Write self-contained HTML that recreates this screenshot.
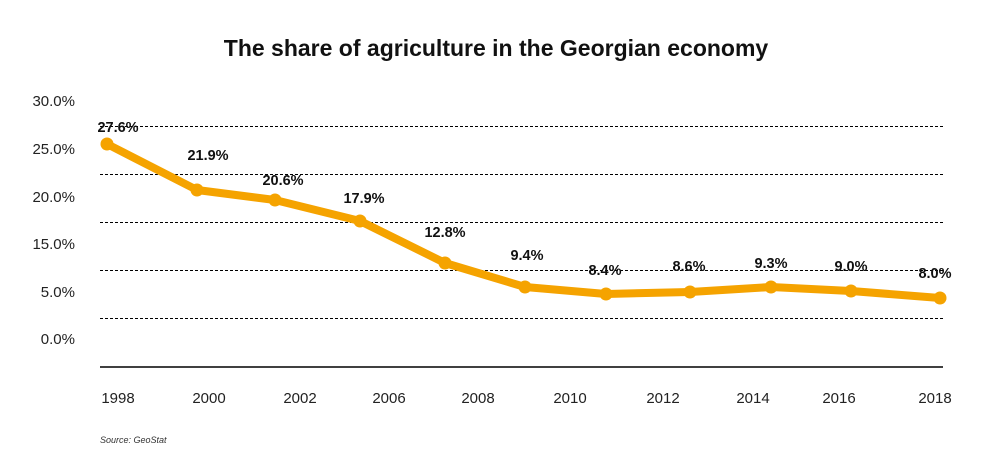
<!DOCTYPE html>
<html><head><style>
body{margin:0;background:#fff;}
svg{display:block;font-family:"Liberation Sans",sans-serif;}
</style></head><body>
<svg width="983" height="459" viewBox="0 0 983 459">
<text x="496" y="56" text-anchor="middle" font-size="23" font-weight="bold" fill="#111">The share of agriculture in the Georgian economy</text>
<g stroke="#000" stroke-width="1" stroke-dasharray="3,2">
<line x1="100" y1="126.5" x2="943" y2="126.5"/>
<line x1="100" y1="174.5" x2="943" y2="174.5"/>
<line x1="100" y1="222.5" x2="943" y2="222.5"/>
<line x1="100" y1="270.5" x2="943" y2="270.5"/>
<line x1="100" y1="318.5" x2="943" y2="318.5"/>
</g>
<line x1="100" y1="367" x2="943" y2="367" stroke="#000" stroke-width="1.5"/>
<g font-size="15" fill="#222" text-anchor="end">
<text x="75" y="106">30.0%</text>
<text x="75" y="154">25.0%</text>
<text x="75" y="202">20.0%</text>
<text x="75" y="249">15.0%</text>
<text x="75" y="297">5.0%</text>
<text x="75" y="344">0.0%</text>
</g>
<g font-size="15" fill="#222" text-anchor="middle">
<text x="118" y="403">1998</text><text x="209" y="403">2000</text><text x="300" y="403">2002</text>
<text x="389" y="403">2006</text><text x="478" y="403">2008</text><text x="570" y="403">2010</text>
<text x="663" y="403">2012</text><text x="753" y="403">2014</text><text x="839" y="403">2016</text>
<text x="935" y="403">2018</text>
</g>
<polyline fill="none" stroke="#f5a300" stroke-width="8" stroke-linejoin="round" points="107,144 197,190 275,200 360,221 445,263 525,287 606,294 690,292 771,287 851,291 940,298"/>
<g fill="#f5a300">
<circle cx="107" cy="144" r="6.5"/><circle cx="197" cy="190" r="6.5"/><circle cx="275" cy="200" r="6.5"/>
<circle cx="360" cy="221" r="6.5"/><circle cx="445" cy="263" r="6.5"/><circle cx="525" cy="287" r="6.5"/>
<circle cx="606" cy="294" r="6.5"/><circle cx="690" cy="292" r="6.5"/><circle cx="771" cy="287" r="6.5"/>
<circle cx="851" cy="291" r="6.5"/><circle cx="940" cy="298" r="6.5"/>
</g>
<g font-size="14.5" font-weight="bold" fill="#111" text-anchor="middle">
<text x="118" y="132">27.6%</text><text x="208" y="160">21.9%</text><text x="283" y="185">20.6%</text>
<text x="364" y="203">17.9%</text><text x="445" y="237">12.8%</text><text x="527" y="260">9.4%</text>
<text x="605" y="275">8.4%</text><text x="689" y="271">8.6%</text><text x="771" y="268">9.3%</text>
<text x="851" y="271">9.0%</text><text x="935" y="278">8.0%</text>
</g>
<text x="100" y="443" font-size="9" font-style="italic" fill="#333">Source: GeoStat</text>
</svg>
</body></html>
